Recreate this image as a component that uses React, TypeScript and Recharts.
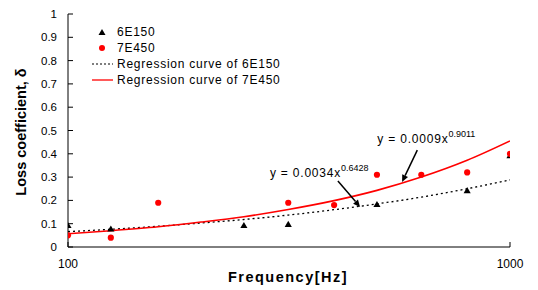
import React from 'react';
import {
  ComposedChart, Line, Scatter, XAxis, YAxis, ZAxis, ReferenceLine,
} from 'recharts';

// measured points (frequency in Hz, loss coefficient)
const FREQ_6E150 = [100, 125, 250, 315, 500, 800, 1000];
const LOSS_6E150 = [0.09, 0.075, 0.09, 0.095, 0.18, 0.24, 0.39];

const FREQ_7E450 = [100, 125, 160, 315, 400, 500, 630, 800, 1000];
const LOSS_7E450 = [0.05, 0.04, 0.19, 0.19, 0.18, 0.31, 0.31, 0.32, 0.40];

// regression curves read at the 1/3 octave bands
const FREQ_CURVE = [100, 125, 160, 200, 250, 315, 400, 500, 630, 800, 1000];
const CURVE_6E150 = [0.066, 0.076, 0.089, 0.103, 0.118, 0.137, 0.160, 0.185, 0.214, 0.250, 0.288];
const CURVE_7E450 = [0.057, 0.070, 0.087, 0.107, 0.130, 0.161, 0.199, 0.243, 0.300, 0.372, 0.455];

const X_TICKS = [100, 1000];
const Y_TICKS = [0, 0.1, 0.2, 0.3, 0.4, 0.5, 0.6, 0.7, 0.8, 0.9, 1];

const FONT = '"Liberation Sans", Arial, sans-serif';

const toPoints = (xs: number[], ys: number[]) => xs.map((f, i) => ({ f, y: ys[i] }));

const pts6 = toPoints(FREQ_6E150, LOSS_6E150);
const pts7 = toPoints(FREQ_7E450, LOSS_7E450);
const curve6 = toPoints(FREQ_CURVE, CURVE_6E150);
const curve7 = toPoints(FREQ_CURVE, CURVE_7E450);

// equation callouts: arrow tail -> head in data units
const ANNOTATIONS = [
  { main: 'y = 0.0009x', sup: '0.9011', from: { x: 617, y: 0.416 }, to: { x: 570, y: 0.279 }, dx: -40, dy: -7 },
  { main: 'y = 0.0034x', sup: '0.6428', from: { x: 408, y: 0.283 }, to: { x: 458, y: 0.172 }, dx: -68, dy: -4 },
];

function arrowShape(main: string, sup: string, dx: number, dy: number) {
  return (props: any) => {
    const { x1, y1, x2, y2 } = props;
    const ang = Math.atan2(y2 - y1, x2 - x1);
    const len = 7;
    const w = 3.2;
    const bx = x2 - len * Math.cos(ang);
    const by = y2 - len * Math.sin(ang);
    const px = -Math.sin(ang) * w;
    const py = Math.cos(ang) * w;
    return (
      <g>
        <line x1={x1} y1={y1} x2={bx} y2={by} stroke="#000" strokeWidth={1.5} />
        <polygon points={`${x2},${y2} ${bx + px},${by + py} ${bx - px},${by - py}`} fill="#000" />
        <text x={x1 + dx} y={y1 + dy} fontFamily={FONT} fontSize={12} letterSpacing={0.8} fill="#000">
          {main}
          <tspan fontSize={9} dy={-6} letterSpacing={0}>{sup}</tspan>
        </text>
      </g>
    );
  };
}

const LEGEND = [
  { name: '6E150', kind: 'triangle' },
  { name: '7E450', kind: 'circle' },
  { name: 'Regression curve of 6E150', kind: 'dotted' },
  { name: 'Regression curve of 7E450', kind: 'solid' },
];

function LegendMark({ kind }: { kind: string }) {
  return (
    <svg width={22} height={16} style={{ display: 'block' }}>
      {kind === 'triangle' && <polygon points="10,5 13.5,11 6.5,11" fill="#000" />}
      {kind === 'circle' && <circle cx={10} cy={8} r={3} fill="#ff0000" />}
      {kind === 'dotted' && <line x1={0} y1={8} x2={21} y2={8} stroke="#000" strokeWidth={1.2} strokeDasharray="2 2" />}
      {kind === 'solid' && <line x1={0} y1={8} x2={21} y2={8} stroke="#ff0000" strokeWidth={1.3} />}
    </svg>
  );
}

export default function App() {
  return (
    <div style={{ position: 'absolute', left: 0, top: 0, width: 538, height: 290, background: '#fff', fontFamily: FONT }}>
      <ComposedChart width={538} height={290} margin={{ top: 14, right: 28, left: 28, bottom: 23 }}>
        <XAxis
          dataKey="f" type="number" scale="log" domain={[100, 1000]} ticks={X_TICKS}
          allowDataOverflow height={20}
          axisLine={{ stroke: '#000' }} tickLine={{ stroke: '#000' }}
          tickSize={-5} tickMargin={17}
          tick={{ fill: '#000', fontSize: 12, fontFamily: FONT }}
        />
        <YAxis
          type="number" domain={[0, 1]} ticks={Y_TICKS} width={40}
          axisLine={{ stroke: '#000' }} tickLine={{ stroke: '#000' }}
          tickSize={-5} tickMargin={16}
          tick={{ fill: '#000', fontSize: 11.5, fontFamily: FONT }}
          tickFormatter={(v: number) => String(Number(v.toFixed(1)))}
        />
        <ZAxis zAxisId="tri" range={[22, 22]} />
        <ZAxis zAxisId="dot" range={[30, 30]} />
        <Line data={curve6} dataKey="y" type="monotone" stroke="#000" strokeWidth={1.3}
          strokeDasharray="2 3" dot={false} isAnimationActive={false} />
        <Line data={curve7} dataKey="y" type="monotone" stroke="#ff0000" strokeWidth={1.6}
          dot={false} isAnimationActive={false} />
        <Scatter data={pts6} dataKey="y" zAxisId="tri" shape="triangle" fill="#000" isAnimationActive={false} />
        <Scatter data={pts7} dataKey="y" zAxisId="dot" shape="circle" fill="#ff0000" isAnimationActive={false} />
        {ANNOTATIONS.map((a) => (
          <ReferenceLine key={a.sup} segment={[a.from, a.to]} ifOverflow="visible"
            shape={arrowShape(a.main, a.sup, a.dx, a.dy)} />
        ))}
      </ComposedChart>

      <div style={{ position: 'absolute', left: 92, top: 24, fontSize: 12, letterSpacing: 0.75, color: '#000' }}>
        {LEGEND.map((item) => (
          <div key={item.name} style={{ display: 'flex', alignItems: 'center', height: 16 }}>
            <LegendMark kind={item.kind} />
            <span style={{ marginLeft: 3, lineHeight: '16px' }}>{item.name}</span>
          </div>
        ))}
      </div>

      <div style={{
        position: 'absolute', left: 21, top: 132, transform: 'translate(-50%, -50%) rotate(-90deg)',
        whiteSpace: 'nowrap', fontWeight: 'bold', fontSize: 14.5, color: '#000',
      }}>
        Loss coefficient, δ
      </div>
      <div style={{
        position: 'absolute', left: 288, top: 277, transform: 'translate(-50%, -50%)',
        whiteSpace: 'nowrap', fontWeight: 'bold', fontSize: 14.5, letterSpacing: 1.5, color: '#000',
      }}>
        Frequency[Hz]
      </div>
    </div>
  );
}
